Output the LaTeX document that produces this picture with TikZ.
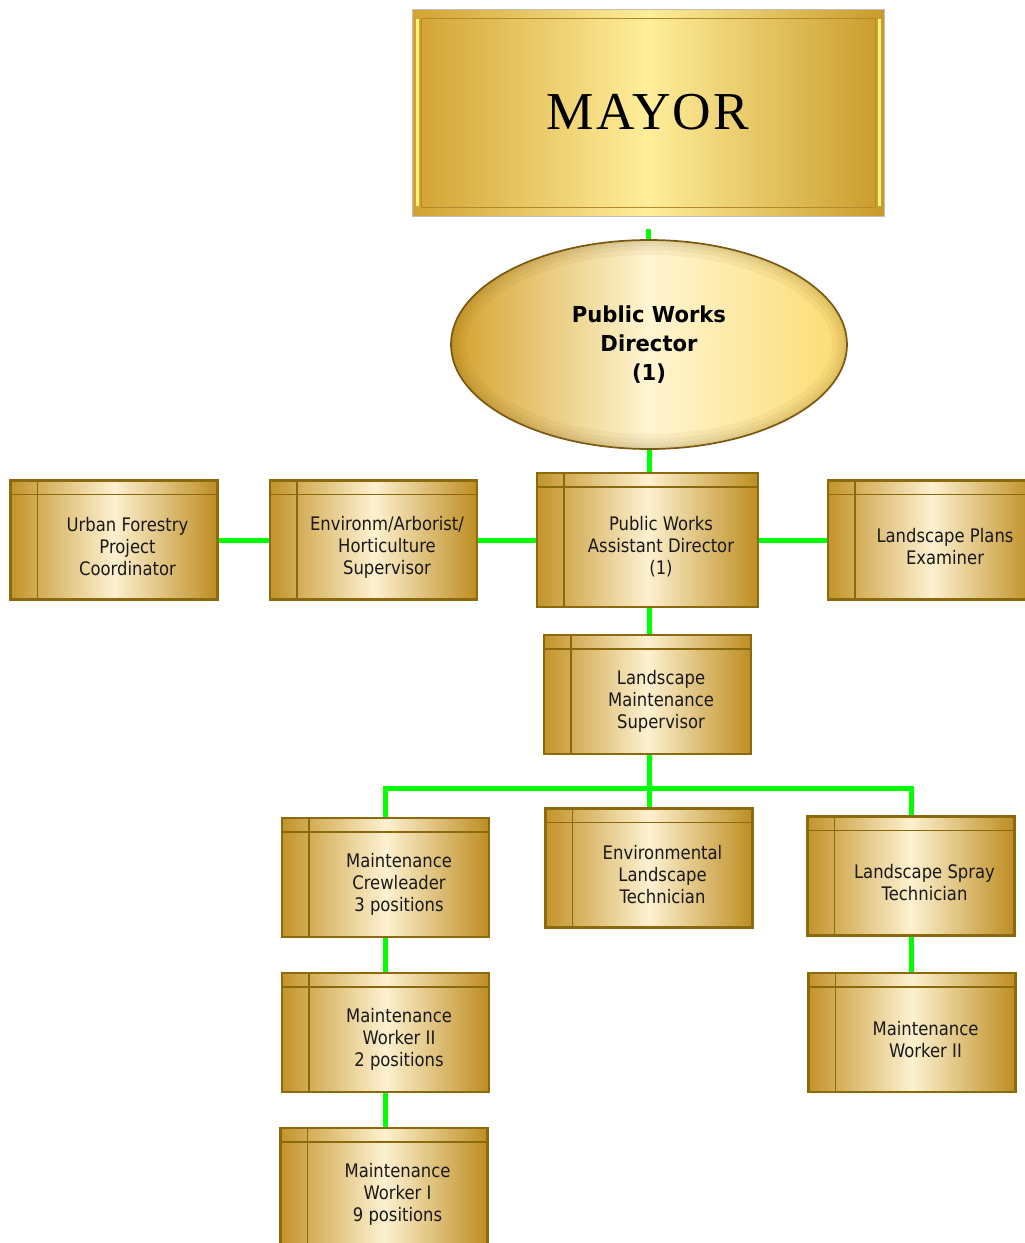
\documentclass[tikz,border=0pt]{standalone}
\usepackage{fontspec}
\usepackage{xcolor}
\usetikzlibrary{shapes.geometric,positioning,calc,backgrounds}

\setmainfont{DejaVu Sans}
\newfontfamily\boxfont[FakeStretch=0.88]{DejaVu Sans}
\newfontfamily\dirfont[FakeStretch=0.96]{DejaVu Sans}
\newfontfamily\mayorfont[LetterSpace=4]{Liberation Serif}

\definecolor{goldedge}{HTML}{8A6A0C}
\definecolor{golddark}{HTML}{C4932A}
\definecolor{goldright}{HTML}{BE8D22}
\definecolor{goldcream}{HTML}{FDF1D0}
\definecolor{mayorleft}{HTML}{D2A232}
\definecolor{mayorright}{HTML}{C99A2A}
\definecolor{mayorlight}{HTML}{FFEE9A}
\definecolor{mayorhi}{HTML}{FFF27A}
\definecolor{ovalleft}{HTML}{D4A22E}
\definecolor{ovalright}{HTML}{FCDB70}
\definecolor{ovallight}{HTML}{FFF5D2}
\definecolor{ovaledge}{HTML}{7A5A12}
\definecolor{linkgreen}{HTML}{00FF00}

% one screen pixel
\def\px{0.75pt}

\tikzset{
  orgbox/.style={rectangle, draw=goldedge, line width=1.7pt,
    left color=golddark, right color=goldright, middle color=goldcream,
    minimum width=207*\px, minimum height=119*\px, inner sep=0pt,
    path picture={
      \draw[goldedge, line width=1.1pt]
        ([xshift=27*\px]path picture bounding box.north west) --
        ([xshift=27*\px]path picture bounding box.south west);
      \draw[goldedge, line width=1.1pt]
        ([yshift=-14*\px]path picture bounding box.north west) --
        ([yshift=-14*\px]path picture bounding box.north east);
    }},
  boxtext/.style={font=\boxfont\fontsize{14pt}{16.5pt}\selectfont,
    text=black!90, align=center, xshift=13.5*\px, yshift=-7*\px},
  mayorbox/.style={rectangle, draw=black!25, line width=0.6pt,
    left color=mayorleft, right color=mayorright, middle color=mayorlight,
    minimum width=472*\px, minimum height=207*\px, inner sep=0pt,
    font=\mayorfont\fontsize{40pt}{40pt}\selectfont,
    path picture={
      \draw[mayorleft!85!black, line width=0.5pt]
        ([shift={(9*\px,-9*\px)}]path picture bounding box.north west) rectangle
        ([shift={(-9*\px,9*\px)}]path picture bounding box.south east);
      \draw[mayorhi, line width=3*\px]
        ([shift={(5*\px,-10*\px)}]path picture bounding box.north west) --
        ([shift={(5*\px,10*\px)}]path picture bounding box.south west);
      \draw[mayorhi, line width=3*\px]
        ([shift={(-5*\px,-10*\px)}]path picture bounding box.north east) --
        ([shift={(-5*\px,10*\px)}]path picture bounding box.south east);
    }},
  director/.style={ellipse, draw=ovaledge, line width=1.3pt,
    left color=ovalleft, right color=ovalright, middle color=ovallight,
    minimum width=396*\px, minimum height=209*\px, inner sep=0pt,
    align=center, font=\dirfont\bfseries\fontsize{16.5pt}{22pt}\selectfont,
    path picture={
      \foreach \w in {30,20,12,6}
        \draw[ovaledge, opacity=0.06, line width=\w*\px]
          (path picture bounding box.center) ellipse [x radius=198*\px, y radius=104.5*\px];
    }},
  link/.style={draw=linkgreen, line width=5*\px},
}

\begin{document}
\begin{tikzpicture}[x=0.75pt, y=-0.75pt]
  \clip (0,0) rectangle (1025,1243);
  \useasboundingbox (0,0) rectangle (1025,1243);

  % top of the chart
  \node[mayorbox] (mayor) at (648,112.5) {MAYOR};
  \node[director] (director) at (649,344.5) {Public Works\\Director\\(1)};

  % assistant director row
  \node[orgbox, minimum width=221*\px, minimum height=134*\px] (asst) at (647.5,540) {};
  \node[boxtext] (asst-t) at (asst) {Public Works\\Assistant Director\\(1)};
  \node[orgbox] (urban) at (114,540) {};
  \node[boxtext] (urban-t) at (urban) {Urban Forestry\\Project\\Coordinator};
  \node[orgbox] (environ) at (373.5,540) {};
  \node[boxtext] (environ-t) at (environ) {Environm/Arborist/\\Horticulture\\Supervisor};
  \node[orgbox] (plans) at (931.5,540) {};
  \node[boxtext] (plans-t) at (plans) {Landscape Plans\\Examiner};

  % maintenance branch
  \node[orgbox] (lms) at (647.5,694.5) {};
  \node[boxtext] (lms-t) at (lms) {Landscape\\Maintenance\\Supervisor};
  \node[orgbox] (crew) at (385.5,877.5) {};
  \node[boxtext] (crew-t) at (crew) {Maintenance\\Crewleader\\3 positions};
  \node[orgbox] (envtech) at (649,868) {};
  \node[boxtext] (envtech-t) at (envtech) {Environmental\\Landscape\\Technician};
  \node[orgbox] (spray) at (911,876) {};
  \node[boxtext] (spray-t) at (spray) {Landscape Spray\\Technician};
  \node[orgbox] (mw2) at (385.5,1032.5) {};
  \node[boxtext] (mw2-t) at (mw2) {Maintenance\\Worker II\\2 positions};
  \node[orgbox] (mw1) at (384,1187.5) {};
  \node[boxtext] (mw1-t) at (mw1) {Maintenance\\Worker I\\9 positions};
  \node[orgbox] (mw2r) at (912,1032.5) {};
  \node[boxtext] (mw2r-t) at (mw2r) {Maintenance\\Worker II};

  % green links behind the boxes
  \begin{scope}[on background layer]
    \draw[link, shorten <=13*\px] (mayor.south) -- (mayor.south |- director.north);
    \draw[link] (director.south) -- (director.south |- asst.north);
    \draw[link] (urban.east) -- (environ.west);
    \draw[link] (environ.east) -- (asst.west);
    \draw[link] (asst.east) -- (plans.west);
    \draw[link] (asst.south -| director) -- (lms.north -| director);
    \coordinate (bus) at (649,788);
    \draw[link] (lms.south -| bus) -- (envtech.north -| bus);
    \draw[link] (crew.north) |- (bus) -| (spray.north);
    \draw[link] (crew.south) -- (crew.south |- mw2.north);
    \draw[link] (mw2.south) -- (mw2.south |- mw1.north);
    \draw[link] (spray.south) -- (spray.south |- mw2r.north);
  \end{scope}
\end{tikzpicture}
\end{document}
